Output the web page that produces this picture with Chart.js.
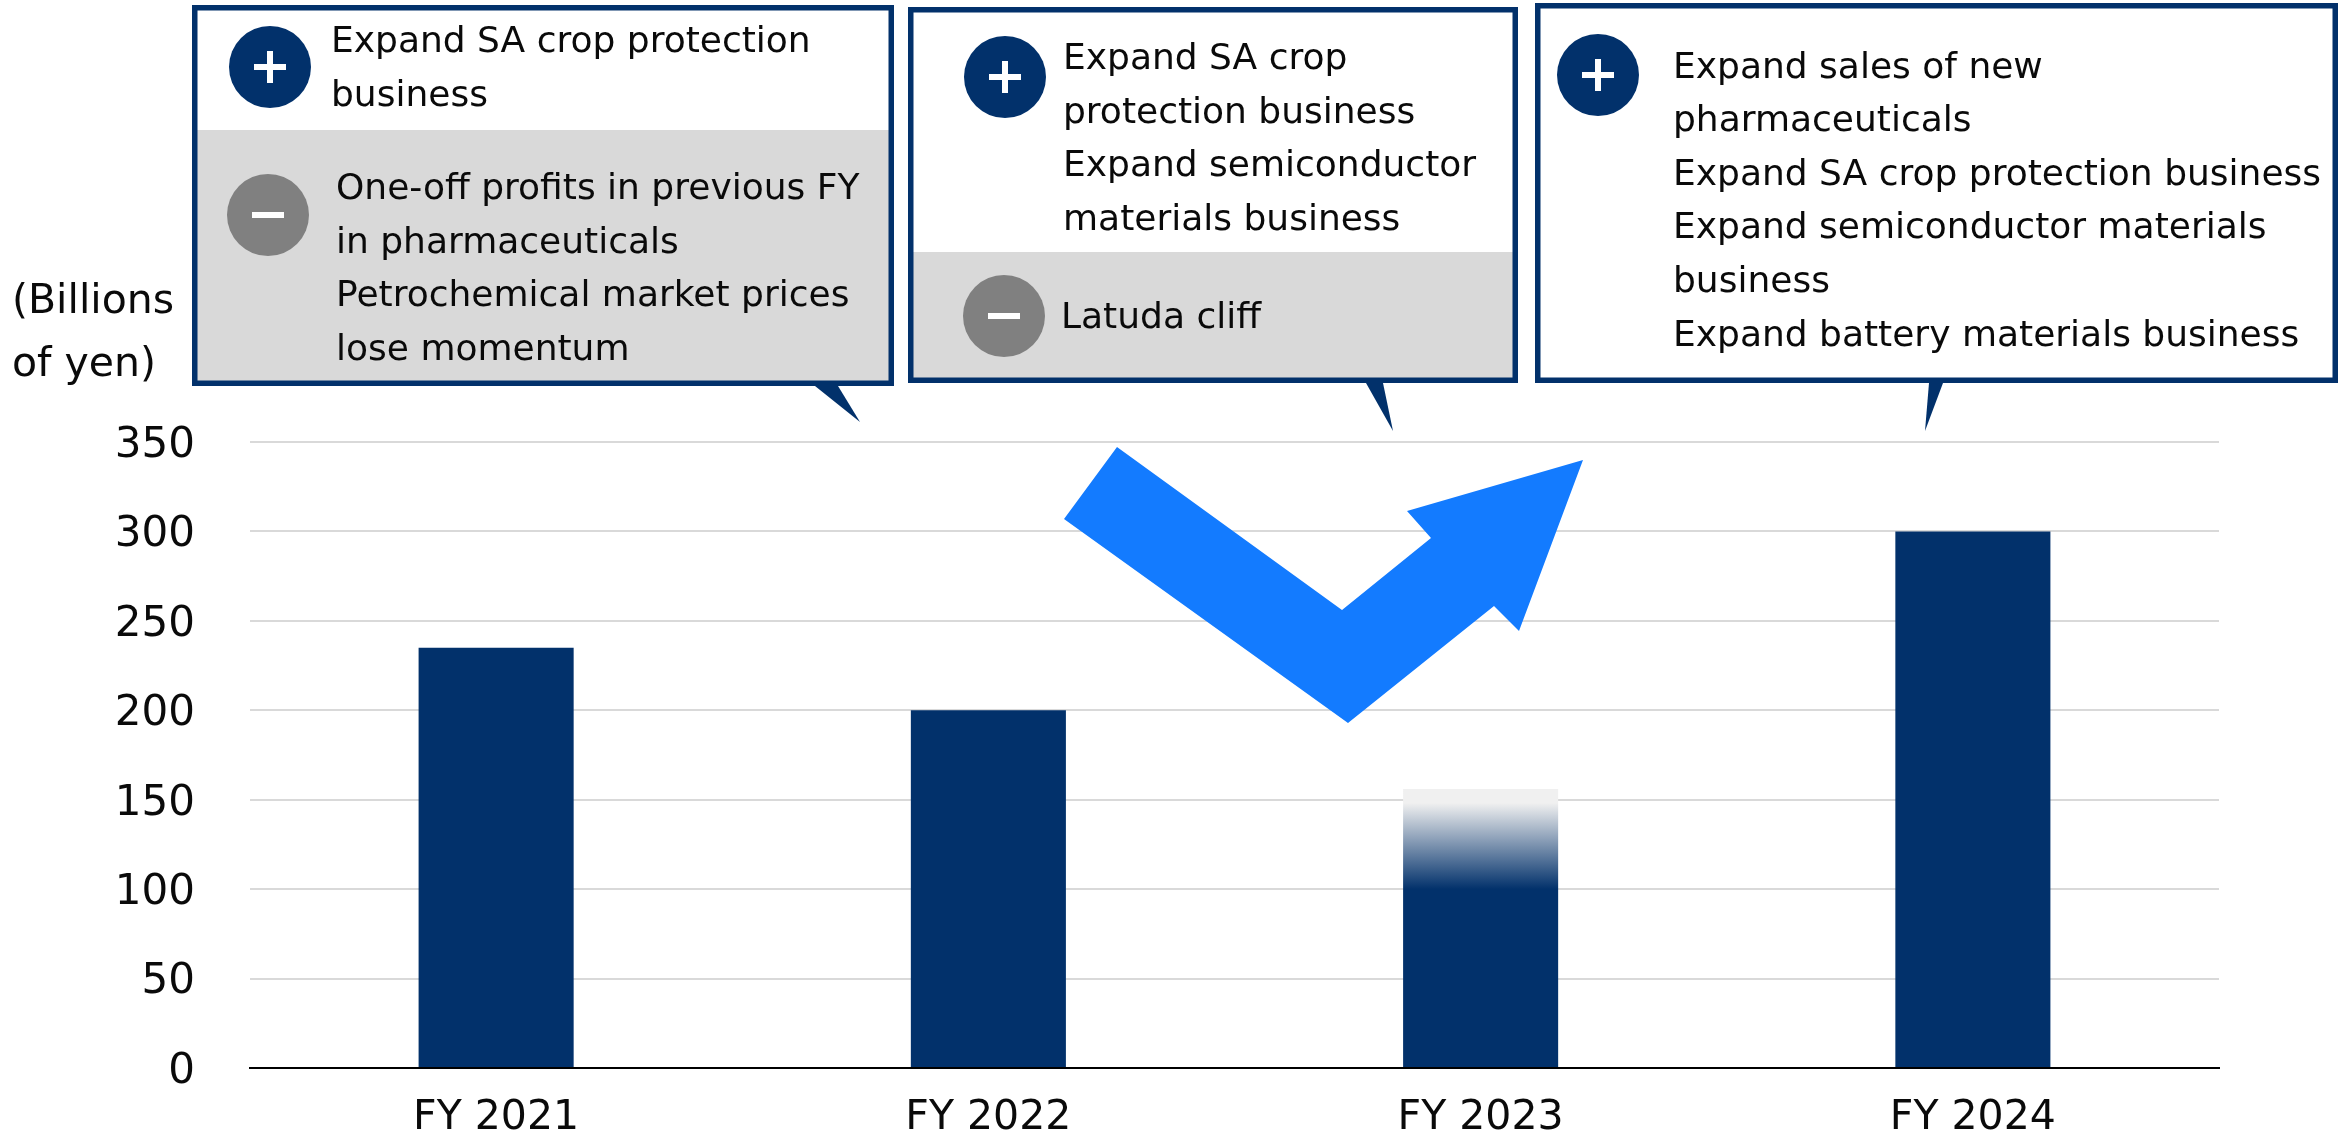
<!DOCTYPE html>
<html>
<head>
<meta charset="utf-8">
<style>
  html, body { margin: 0; padding: 0; background: #fff; }
  canvas { display: block; }
</style>
<script src="https://cdn.jsdelivr.net/npm/chart.js@4"></script>
</head>
<body>
<canvas id="chart" width="2349" height="1136"></canvas>
<script>
'use strict';

const categories = ['FY 2021', 'FY 2022', 'FY 2023', 'FY 2024'];
const values = [235, 200, 156, 300];
const yTicks = [0, 50, 100, 150, 200, 250, 300, 350];
const unitLines = ['(Billions', 'of yen)'];

const NAVY = '#02316B';
const GREY_BAND = '#D9D9D9';
const GREY_DOT = '#808080';
const ARROW_BLUE = '#137BFF';
const TEXT = '#0A0A0A';
const FONT = '"DejaVu Sans", sans-serif';

// FY 2023 is a forecast-style bar: fades out from about 100 up to its top
const fadeIndex = 2;
const fadeFullAt = 100;

// callouts above the plot, all in page pixels
const callouts = [
  {
    box: [192, 5, 894, 386], greyFrom: 130, tail: [[815, 386], [838, 386], [860, 422]],
    plus: [270, 67], minus: [268, 215],
    lines: [
      ['Expand SA crop protection', 331, 52],
      ['business', 331, 106],
      ['One-off profits in previous FY', 336, 199],
      ['in pharmaceuticals', 336, 253],
      ['Petrochemical market prices', 336, 306],
      ['lose momentum', 336, 360]
    ]
  },
  {
    box: [908, 7, 1518, 383], greyFrom: 252, tail: [[1366, 383], [1383, 383], [1393, 431]],
    plus: [1005, 77], minus: [1004, 316],
    lines: [
      ['Expand SA crop', 1063, 69],
      ['protection business', 1063, 123],
      ['Expand semiconductor', 1063, 176],
      ['materials business', 1063, 230],
      ['Latuda cliff', 1061, 328]
    ]
  },
  {
    box: [1535, 3, 2338, 383], greyFrom: null, tail: [[1929, 383], [1943, 383], [1925, 431]],
    plus: [1598, 75], minus: null,
    lines: [
      ['Expand sales of new', 1673, 78],
      ['pharmaceuticals', 1673, 131],
      ['Expand SA crop protection business', 1673, 185],
      ['Expand semiconductor materials', 1673, 238],
      ['business', 1673, 292],
      ['Expand battery materials business', 1673, 346]
    ]
  }
];

const arrowShape = [
  [1064, 519], [1117, 447], [1342, 610], [1431, 538], [1407, 511],
  [1583, 460], [1519, 631], [1494, 606], [1348, 723]
];

function fillPoly(ctx, pts, color) {
  ctx.fillStyle = color;
  ctx.beginPath();
  pts.forEach((p, i) => i ? ctx.lineTo(p[0], p[1]) : ctx.moveTo(p[0], p[1]));
  ctx.closePath();
  ctx.fill();
}

function drawBadge(ctx, pos, color, isPlus) {
  ctx.fillStyle = color;
  ctx.beginPath();
  ctx.arc(pos[0], pos[1], 41, 0, Math.PI * 2);
  ctx.fill();
  ctx.fillStyle = '#fff';
  ctx.fillRect(pos[0] - 16, pos[1] - 3, 32, 6);
  if (isPlus) ctx.fillRect(pos[0] - 3, pos[1] - 16, 6, 32);
}

function drawCallout(ctx, c) {
  const [x1, y1, x2, y2] = c.box;
  ctx.fillStyle = '#fff';
  ctx.fillRect(x1, y1, x2 - x1, y2 - y1);
  if (c.greyFrom) {
    ctx.fillStyle = GREY_BAND;
    ctx.fillRect(x1, c.greyFrom, x2 - x1, y2 - c.greyFrom);
  }
  ctx.strokeStyle = NAVY;
  ctx.lineWidth = 5.5;
  ctx.strokeRect(x1 + 2.75, y1 + 2.75, x2 - x1 - 5.5, y2 - y1 - 5.5);
  fillPoly(ctx, c.tail, NAVY);
  drawBadge(ctx, c.plus, NAVY, true);
  if (c.minus) drawBadge(ctx, c.minus, GREY_DOT, false);
  ctx.fillStyle = TEXT;
  ctx.font = '36px ' + FONT;
  ctx.textAlign = 'left';
  ctx.textBaseline = 'alphabetic';
  c.lines.forEach(l => ctx.fillText(l[0], l[1], l[2]));
}

const overlayPlugin = {
  id: 'overlay',
  beforeDraw(chart) {
    // y labels sit a little low on their gridlines in the reference
    chart.scales.y.getLabelItems().forEach(item => {
      item.options.translation[1] += 4;
    });
  },
  afterDraw(chart) {
    const ctx = chart.ctx;
    ctx.save();
    fillPoly(ctx, arrowShape, ARROW_BLUE);
    callouts.forEach(c => drawCallout(ctx, c));
    ctx.fillStyle = TEXT;
    ctx.font = '41px ' + FONT;
    ctx.textAlign = 'left';
    ctx.textBaseline = 'alphabetic';
    ctx.fillText(unitLines[0], 12, 313);
    ctx.fillText(unitLines[1], 12, 376);
    ctx.restore();
  }
};

function barColor(context) {
  if (context.dataIndex !== fadeIndex) return NAVY;
  const { chart } = context;
  const y = chart.scales.y;
  if (!y) return NAVY;
  const top = y.getPixelForValue(values[fadeIndex]);
  const solid = y.getPixelForValue(fadeFullAt);
  const grad = chart.ctx.createLinearGradient(0, top, 0, solid);
  grad.addColorStop(0, '#F0F0F0');
  grad.addColorStop(0.14, '#F0F0F0');
  grad.addColorStop(1, NAVY);
  return grad;
}

new Chart(document.getElementById('chart').getContext('2d'), {
  type: 'bar',
  data: {
    labels: categories,
    datasets: [{
      data: values,
      backgroundColor: barColor,
      barPercentage: 0.315,
      categoryPercentage: 1
    }]
  },
  options: {
    responsive: false,
    animation: false,
    layout: { padding: { top: 442, right: 130, left: 0, bottom: 0 } },
    plugins: { legend: { display: false }, tooltip: { enabled: false } },
    scales: {
      x: {
        grid: { display: false },
        border: { color: '#000', width: 2 },
        ticks: { color: TEXT, font: { family: FONT, size: 41 }, padding: 18, maxRotation: 0 },
        afterFit: s => { s.height = 68; }
      },
      y: {
        min: 0,
        max: 350,
        afterBuildTicks: s => { s.ticks = yTicks.map(v => ({ value: v })); },
        grid: { color: GREY_BAND, lineWidth: 2, drawTicks: false },
        border: { display: false },
        ticks: { color: TEXT, font: { family: FONT, size: 42 }, padding: 55 },
        afterFit: s => { s.width = 250; s.paddingTop = 0; s.paddingBottom = 0; }
      }
    }
  },
  plugins: [overlayPlugin]
});
</script>
</body>
</html>
